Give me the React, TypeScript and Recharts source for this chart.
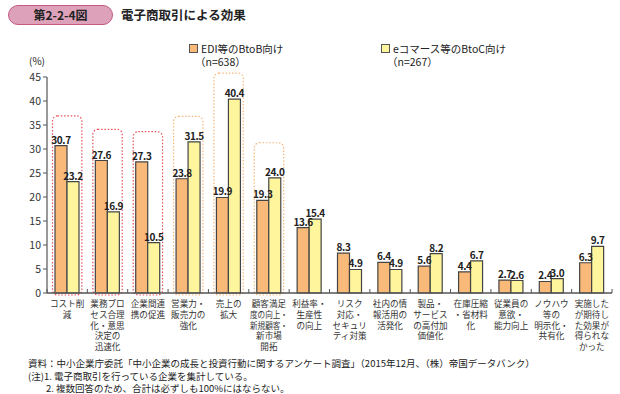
import React from "react";
import { BarChart, Bar, XAxis, YAxis, LabelList, ReferenceArea } from "recharts";

const categories = [
  "コスト削\n減",
  "業務プロ\nセス合理\n化・意思\n決定の\n迅速化",
  "企業間連\n携の促進",
  "営業力・\n販売力の\n強化",
  "売上の\n拡大",
  "顧客満足\n度の向上・\n新規顧客・\n新市場\n開拓",
  "利益率・\n生産性\nの向上",
  "リスク\n対応・\nセキュリ\nティ対策",
  "社内の情\n報活用の\n活発化",
  "製品・\nサービス\nの高付加\n価値化",
  "在庫圧縮\n・省材料\n化",
  "従業員の\n意欲・\n能力向上",
  "ノウハウ\n等の\n明示化・\n共有化",
  "実施した\nが期待し\nた効果が\n得られな\nかった",
];
const btobValues = [30.7, 27.6, 27.3, 23.8, 19.9, 19.3, 13.6, 8.3, 6.4, 5.6, 4.4, 2.7, 2.4, 6.3];
const btocValues = [23.2, 16.9, 10.5, 31.5, 40.4, 24.0, 15.4, 4.9, 4.9, 8.2, 6.7, 2.6, 3.0, 9.7];
const yTicks = [0, 5, 10, 15, 20, 25, 30, 35, 40, 45];

// highlighted groups (category index, box top value, group)
const highlightIndex = [0, 1, 2, 3, 4, 5];
const highlightTop = [36.9, 34.1, 33.6, 36.8, 45.8, 31.3];
const highlightGroup = ["red", "red", "red", "orange", "orange", "orange"];

const data = categories.map((c, i) => ({ name: c, btob: btobValues[i], btoc: btocValues[i] }));

const W = 620;
const H = 394;
const X_H = 1;
const M = { top: 77, right: 8, bottom: 100, left: 0 };
const Y_W = 47;
const BAND = (W - M.right - Y_W) / categories.length;
const AXIS_Y = H - M.bottom - X_H;

const FONT = "'Noto Sans CJK JP', 'Noto Sans', sans-serif";
const TXT = "#333";
const ORANGE = "#F9B978";
const YELLOW = "#FFF59D";

const XTick = (props: any) => {
  const { x, payload, index } = props;
  const lines = String(payload.value).split("\n");
  const ay = AXIS_Y;
  return (
    <g>
      <line x1={x - BAND / 2} x2={x - BAND / 2} y1={ay} y2={ay - 4} stroke="#555" strokeWidth={1} />
      {index === categories.length - 1 && (
        <line x1={x + BAND / 2} x2={x + BAND / 2} y1={ay} y2={ay - 4} stroke="#555" strokeWidth={1} />
      )}
      {lines.map((l, i) => (
        <text
          key={i}
          x={x}
          y={ay + 14 + i * 10.8}
          textAnchor="middle"
          fontSize={8.6}
          fill={TXT}
          fontFamily={FONT}
          {...(l.length > 4 ? { textLength: 38, lengthAdjust: "spacingAndGlyphs" } : {})}
        >
          {l}
        </text>
      ))}
    </g>
  );
};

const boxShape = (color: string) => (props: any) => {
  const { x, y, width, height } = props;
  const inset = 5.5;
  return (
    <rect
      x={x + inset}
      y={y}
      width={width - inset * 2}
      height={height + 2}
      rx={5}
      ry={5}
      fill="none"
      stroke={color}
      strokeWidth={1.2}
      strokeDasharray="1.5 1.8"
    />
  );
};

const labelProps = {
  position: "top" as const,
  offset: 2,
  fontSize: 10,
  fontWeight: 700,
  fill: "#222",
  fontFamily: FONT,
  letterSpacing: -0.4,
  formatter: (v: any) => Number(v).toFixed(1),
};

export default function App() {
  return (
    <div style={{ position: "absolute", left: 0, top: 0, width: W, height: H, fontFamily: FONT, color: TXT, background: "#fff" }}>
      <div
        style={{
          position: "absolute",
          left: 8,
          top: 5,
          width: 103,
          height: 18,
          borderRadius: 10,
          background: "#DDA2BA",
          border: "1px solid #C25A82",
          fontSize: 12,
          fontWeight: 700,
          lineHeight: "18px",
          textAlign: "center",
          color: "#222",
        }}
      >
        第2-2-4図
      </div>
      <div style={{ position: "absolute", left: 121, top: 6, fontSize: 12.5, fontWeight: 700, lineHeight: "18px", color: "#222" }}>
        電子商取引による効果
      </div>

      <div style={{ position: "absolute", left: 189, top: 42, fontSize: 10.5, lineHeight: "13px", color: "#222" }}>
        <span style={{ display: "inline-block", width: 7, height: 7, background: ORANGE, border: "1px solid #555", marginRight: 3, verticalAlign: "0px" }} />
        EDI等のBtoB向け
        <div style={{ paddingLeft: 6 }}>（n=638）</div>
      </div>
      <div style={{ position: "absolute", left: 381, top: 42, fontSize: 10.5, lineHeight: "13px", color: "#222" }}>
        <span style={{ display: "inline-block", width: 7, height: 7, background: YELLOW, border: "1px solid #555", marginRight: 3, verticalAlign: "0px" }} />
        eコマース等のBtoC向け
        <div style={{ paddingLeft: 6 }}>（n=267）</div>
      </div>
      <div style={{ position: "absolute", left: 29, top: 55, fontSize: 10, lineHeight: "12px", color: "#222" }}>(%)</div>

      <BarChart width={W} height={H} data={data} margin={M} barGap={0} barSize={12}>
        {highlightIndex.map((ci, k) => (
          <ReferenceArea
            key={k}
            x1={categories[ci]}
            x2={categories[ci]}
            y1={0}
            y2={highlightTop[k]}
            ifOverflow="visible"
            shape={boxShape(highlightGroup[k] === "red" ? "#E8505A" : "#F6B77A")}
          />
        ))}
        <XAxis
          dataKey="name"
          height={X_H}
          interval={0}
          tickSize={0}
          tickMargin={0}
          tick={<XTick />}
          axisLine={{ stroke: "#555", strokeWidth: 1.5 }}
          tickLine={false}
        />
        <YAxis
          width={Y_W}
          domain={[0, 45]}
          ticks={yTicks}
          interval={0}
          tickSize={4}
          tickMargin={2}
          axisLine={{ stroke: "#555", strokeWidth: 1.2 }}
          tickLine={{ stroke: "#555" }}
          tick={{ fontSize: 10.5, fill: TXT, fontFamily: FONT }}
        />
        <Bar dataKey="btob" fill={ORANGE} stroke="#444" strokeWidth={1.2} isAnimationActive={false}>
          <LabelList dataKey="btob" {...labelProps} />
        </Bar>
        <Bar dataKey="btoc" fill={YELLOW} stroke="#444" strokeWidth={1.2} isAnimationActive={false}>
          <LabelList dataKey="btoc" {...labelProps} />
        </Bar>
      </BarChart>

      <div style={{ position: "absolute", left: 28, top: 357, fontSize: 9.5, lineHeight: "12.5px", whiteSpace: "nowrap", color: "#222" }}>
        <div>資料：中小企業庁委託「中小企業の成長と投資行動に関するアンケート調査」（2015年12月、（株）帝国データバンク）</div>
        <div>(注)1. 電子商取引を行っている企業を集計している。</div>
        <div style={{ paddingLeft: 18 }}>2. 複数回答のため、合計は必ずしも100%にはならない。</div>
      </div>
    </div>
  );
}
